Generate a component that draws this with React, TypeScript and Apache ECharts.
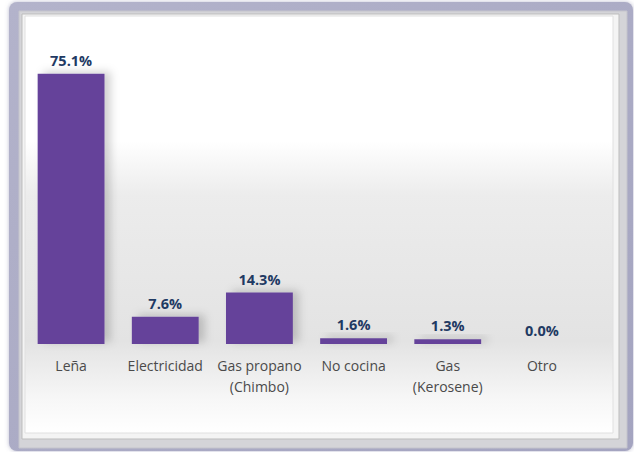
import React, { useEffect, useRef } from "react";
import * as echarts from "echarts";

const categories = ["Leña", "Electricidad", "Gas propano\n(Chimbo)", "No cocina", "Gas\n(Kerosene)", "Otro"];
const values = [75.1, 7.6, 14.3, 1.6, 1.3, 0.0];

export default function App() {
  const ref = useRef<HTMLDivElement>(null);
  useEffect(() => {
    document.body.style.margin = "0";
    const chart = echarts.init(ref.current!, undefined, { renderer: "svg" });
    chart.setOption({
      animation: false,
      backgroundColor: "#ffffff",
      graphic: [
        {
          type: "rect",
          z: -10,
          silent: true,
          shape: { x: 9, y: 2, width: 624, height: 449, r: 8 },
          style: {
            fill: new echarts.graphic.LinearGradient(0, 0, 1, 1, [
              { offset: 0, color: "#b3b3cb" },
              { offset: 1, color: "#a4a4c0" },
            ]),
            shadowColor: "rgba(120,120,160,0.5)",
            shadowBlur: 4,
          },
        },
        {
          type: "rect",
          z: -9,
          silent: true,
          shape: { x: 19, y: 11, width: 608, height: 437 },
          style: { fill: "#d4d4d8", stroke: "#c4c4cc", lineWidth: 1 },
        },
        {
          type: "rect",
          z: -8,
          silent: true,
          shape: { x: 22, y: 14, width: 597, height: 425 },
          style: { fill: "#f4f4f4", stroke: "#bdbdbd", lineWidth: 1 },
        },
        {
          type: "rect",
          z: -7,
          silent: true,
          shape: { x: 25, y: 16, width: 588, height: 417 },
          style: {
            fill: new echarts.graphic.LinearGradient(0, 0, 0, 1, [
              { offset: 0, color: "#ffffff" },
              { offset: 0.3, color: "#ffffff" },
              { offset: 0.43, color: "#ececec" },
              { offset: 0.78, color: "#e3e3e3" },
              { offset: 0.92, color: "#f7f7f7" },
              { offset: 1, color: "#ffffff" },
            ]),
            stroke: "#e0e0e0",
            lineWidth: 1,
          },
        },
      ],
      grid: { left: 24, right: 45, top: 56, bottom: 108, containLabel: false },
      xAxis: {
        type: "category",
        data: categories,
        axisLine: { show: false },
        axisTick: { show: false },
        axisLabel: {
          color: "#4a4a4a",
          fontSize: 14,
          fontFamily: "Open Sans",
          margin: 11,
          lineHeight: 21,
          interval: 0,
        },
      },
      yAxis: {
        type: "value",
        min: 0,
        max: 80,
        show: false,
        splitLine: { show: false },
      },
      series: [
        {
          type: "bar",
          data: values,
          barWidth: "71%",
          itemStyle: {
            color: "#65439a",
            shadowColor: "rgba(0,0,0,0.18)",
            shadowBlur: 8,
            shadowOffsetX: 6,
            shadowOffsetY: -2,
          },
          label: {
            show: true,
            position: "top",
            distance: 6,
            formatter: (p: any) => p.value.toFixed(1) + "%",
            color: "#1f3a63",
            fontWeight: "bold",
            fontSize: 14.5,
            fontFamily: "Open Sans",
          },
        },
      ],
    });
    return () => chart.dispose();
  }, []);
  return <div ref={ref} style={{ width: 634, height: 452 }} />;
}
